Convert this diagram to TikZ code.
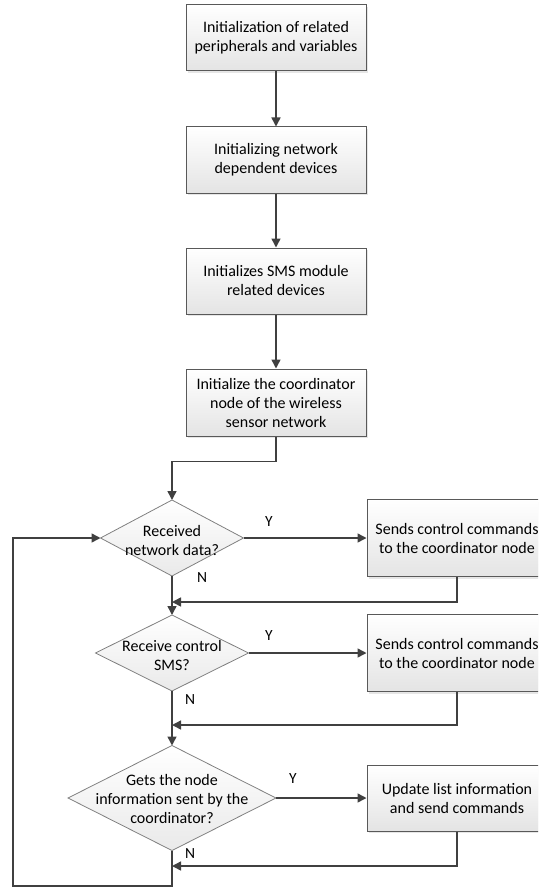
\documentclass[tikz,border=0pt]{standalone}
\usepackage{fontspec}
\setmainfont{Carlito}
\usetikzlibrary{
    arrows.meta,
    shapes.geometric,
    shadows
}
\definecolor{flowgray}{HTML}{404040}
\definecolor{edgegray}{HTML}{595959}
\definecolor{diagray}{HTML}{808080}
\definecolor{fillgray}{HTML}{E4E4E4}
\tikzset{
    txt/.style={font=\fontsize{16}{19}\selectfont, align=center},
    process/.style={txt, rectangle, draw=edgegray, line width=1pt,
        top color=white, bottom color=fillgray,
        minimum width=180pt, minimum height=66pt, inner sep=0pt,
        drop shadow={opacity=0.2, shadow xshift=2pt, shadow yshift=-2pt}},
    decision/.style={diamond, draw=diagray, line width=0.8pt,
        top color=white, bottom color=fillgray!80,
        inner sep=0pt, outer sep=0pt},
    dtext/.style={txt},
    flow/.style={-{Triangle[length=9pt, width=9pt]}, line width=1.5pt, draw=flowgray},
    yn/.style={font=\fontsize{15.5}{17}\selectfont, inner sep=0pt}
}

\begin{document}
\begin{tikzpicture}[x=1pt, y=-1pt]
    \clip (0,0) rectangle (538,888);
    % main column
    \node[process] (init) at (276,38) {Initialization of related\\peripherals and variables};
    \node[process] (net) at (276,160) {Initializing network\\dependent devices};
    \node[process] (sms) at (276,281) {Initializes SMS module\\related devices};
    \node[process, minimum height=67pt] (coord) at (276,402.5) {Initialize the coordinator\\node of the wireless\\sensor network};

    % decisions
    \node[decision, minimum width=143pt, minimum height=76pt] (recv) at (172,538) {};
    \node[dtext] (recvt) at (172,540) {Received\\network data?};
    \node[decision, minimum width=153pt, minimum height=76pt] (ctrl) at (172,653) {};
    \node[dtext] (ctrlt) at (172,655) {Receive control\\SMS?};
    \node[decision, minimum width=208pt, minimum height=105pt] (gets) at (172,798) {};
    \node[dtext] (getst) at (172,799) {Gets the node\\information sent by the\\coordinator?};

    % actions
    \node[process, minimum height=77pt] (send1) at (457,538) {Sends control commands\\to the coordinator node};
    \node[process, minimum height=77pt] (send2) at (457,653) {Sends control commands\\to the coordinator node};
    \node[process] (upd) at (457,798) {Update list information\\and send commands};

    % Y / N marks
    \node[yn] (y1) at (269,522) {Y};
    \node[yn] (n1) at (202,578) {N};
    \node[yn] (y2) at (269,636) {Y};
    \node[yn] (n2) at (190,700) {N};
    \node[yn] (y3) at (293,779) {Y};
    \node[yn] (n3) at (190,854) {N};

    \coordinate (r1) at (172,602);
    \coordinate (r2) at (172,725);
    \coordinate (r3) at (172,866);
    \coordinate (bl) at (13,886);

    \draw[flow] (init) -- (net);
    \draw[flow] (net) -- (sms);
    \draw[flow] (sms) -- (coord);
    \draw[flow] (coord.south) -- ++(0,25) -| (recv.north);
    \draw[flow] (recv.east) -- (send1.west);
    \draw[flow] (recv.south) -- (ctrl.north);
    \draw[flow] (send1.south) |- (r1);
    \draw[flow] (ctrl.east) -- (send2.west);
    \draw[flow] (ctrl.south) -- (gets.north);
    \draw[flow] (send2.south) |- (r2);
    \draw[flow] (gets.east) -- (upd.west);
    \draw[flow] (upd.south) |- (r3);
    \draw[flow] (gets.south) |- (bl) |- (recv.west);
\end{tikzpicture}
\end{document}
